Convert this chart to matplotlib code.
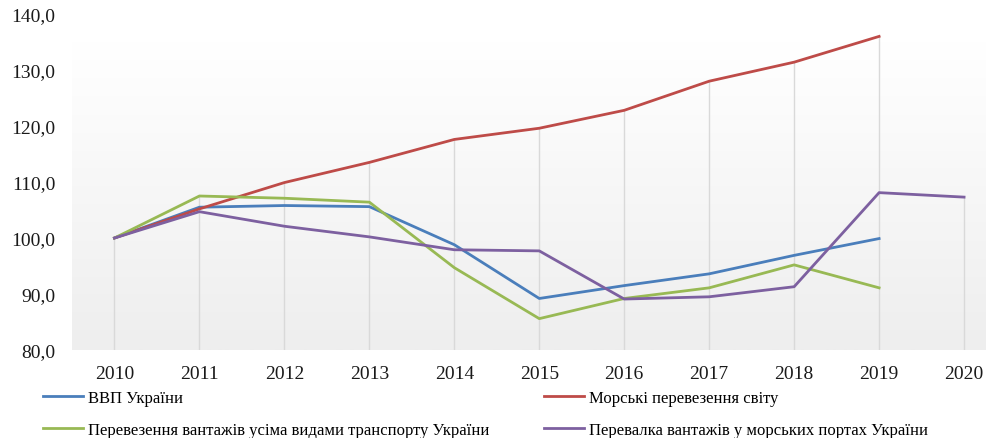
import numpy as np
import matplotlib
matplotlib.use('Agg')
import matplotlib.pyplot as plt
from matplotlib.ticker import FuncFormatter

years = ['2010', '2011', '2012', '2013', '2014', '2015', '2016', '2017', '2018', '2019', '2020']
gdp = [100.0, 105.5, 105.8, 105.6, 98.8, 89.2, 91.5, 93.6, 96.9, 99.9, np.nan]
sea_world = [100.0, 105.2, 109.9, 113.5, 117.6, 119.6, 122.8, 128.0, 131.4, 136.0, np.nan]
cargo_all = [100.0, 107.5, 107.1, 106.4, 94.7, 85.6, 89.2, 91.1, 95.2, 91.1, np.nan]
ports = [100.0, 104.7, 102.1, 100.2, 97.9, 97.7, 89.1, 89.5, 91.3, 108.1, 107.3]

labels = ['ВВП України', 'Морські перевезення світу',
          'Перевезення вантажів усіма видами транспорту України',
          'Перевалка вантажів у морських портах України']
colors = ['#4a7ebb', '#be4b48', '#98b954', '#7d60a0']

plt.rcParams['font.family'] = ['Liberation Serif', 'DejaVu Serif']

fig = plt.figure(figsize=(9.87, 4.39), dpi=100)
ax = fig.add_axes([72 / 987, 88 / 439, (987 - 72) / 987, (439 - 88) / 439])

x = np.arange(len(years))
ymax = 80 + 351 / 5.6
ax.set_xlim(-0.5, 10.27)
ax.set_ylim(80, ymax)

# background gradient: white at top, light grey towards the bottom
grad = np.linspace(0, 1, 256).reshape(-1, 1)
grad = np.clip((grad - 0.12) / 0.88, 0, 1)
cmap = matplotlib.colors.LinearSegmentedColormap.from_list('bg', ['#ffffff', '#eeeeee'])
ax.imshow(grad, aspect='auto', cmap=cmap, extent=[0, 1, 0, 1],
          transform=ax.transAxes, zorder=0, origin='upper')

# drop lines from highest point to the axis
series = [gdp, sea_world, cargo_all, ports]
tops = np.nanmax(np.array(series, dtype=float), axis=0)
ax.vlines(x, 80, tops, color='#d9d9d9', lw=1.0, zorder=1)

lines = []
for s, c, l in zip(series, colors, labels):
    ln, = ax.plot(x, s, color=c, lw=2.0, label=l, zorder=3, solid_joinstyle='round')
    lines.append(ln)

ax.set_xticks(x)
ax.set_xticklabels(years)
ax.set_yticks(np.arange(80, 141, 10))
ax.yaxis.set_major_formatter(FuncFormatter(lambda v, p: f'{v:.1f}'.replace('.', ',')))
ax.tick_params(length=0, labelsize=14, colors='#1a1a1a')
ax.tick_params(axis='y', pad=12)
ax.tick_params(axis='x', pad=11)
for sp in ax.spines.values():
    sp.set_visible(False)

# row-major order: ВВП | Морські / Перевезення | Перевалка
order = [0, 2, 1, 3]
fig.legend([lines[i] for i in order], [labels[i] for i in order],
           loc='upper left', bbox_to_anchor=(43 / 987, 1 - 391 / 439), ncol=2,
           frameon=False, fontsize=12, handlelength=2.4, handletextpad=0.3,
           columnspacing=3.3, labelspacing=0.95, borderaxespad=0, borderpad=0)

fig.savefig('out.png', dpi=100)
